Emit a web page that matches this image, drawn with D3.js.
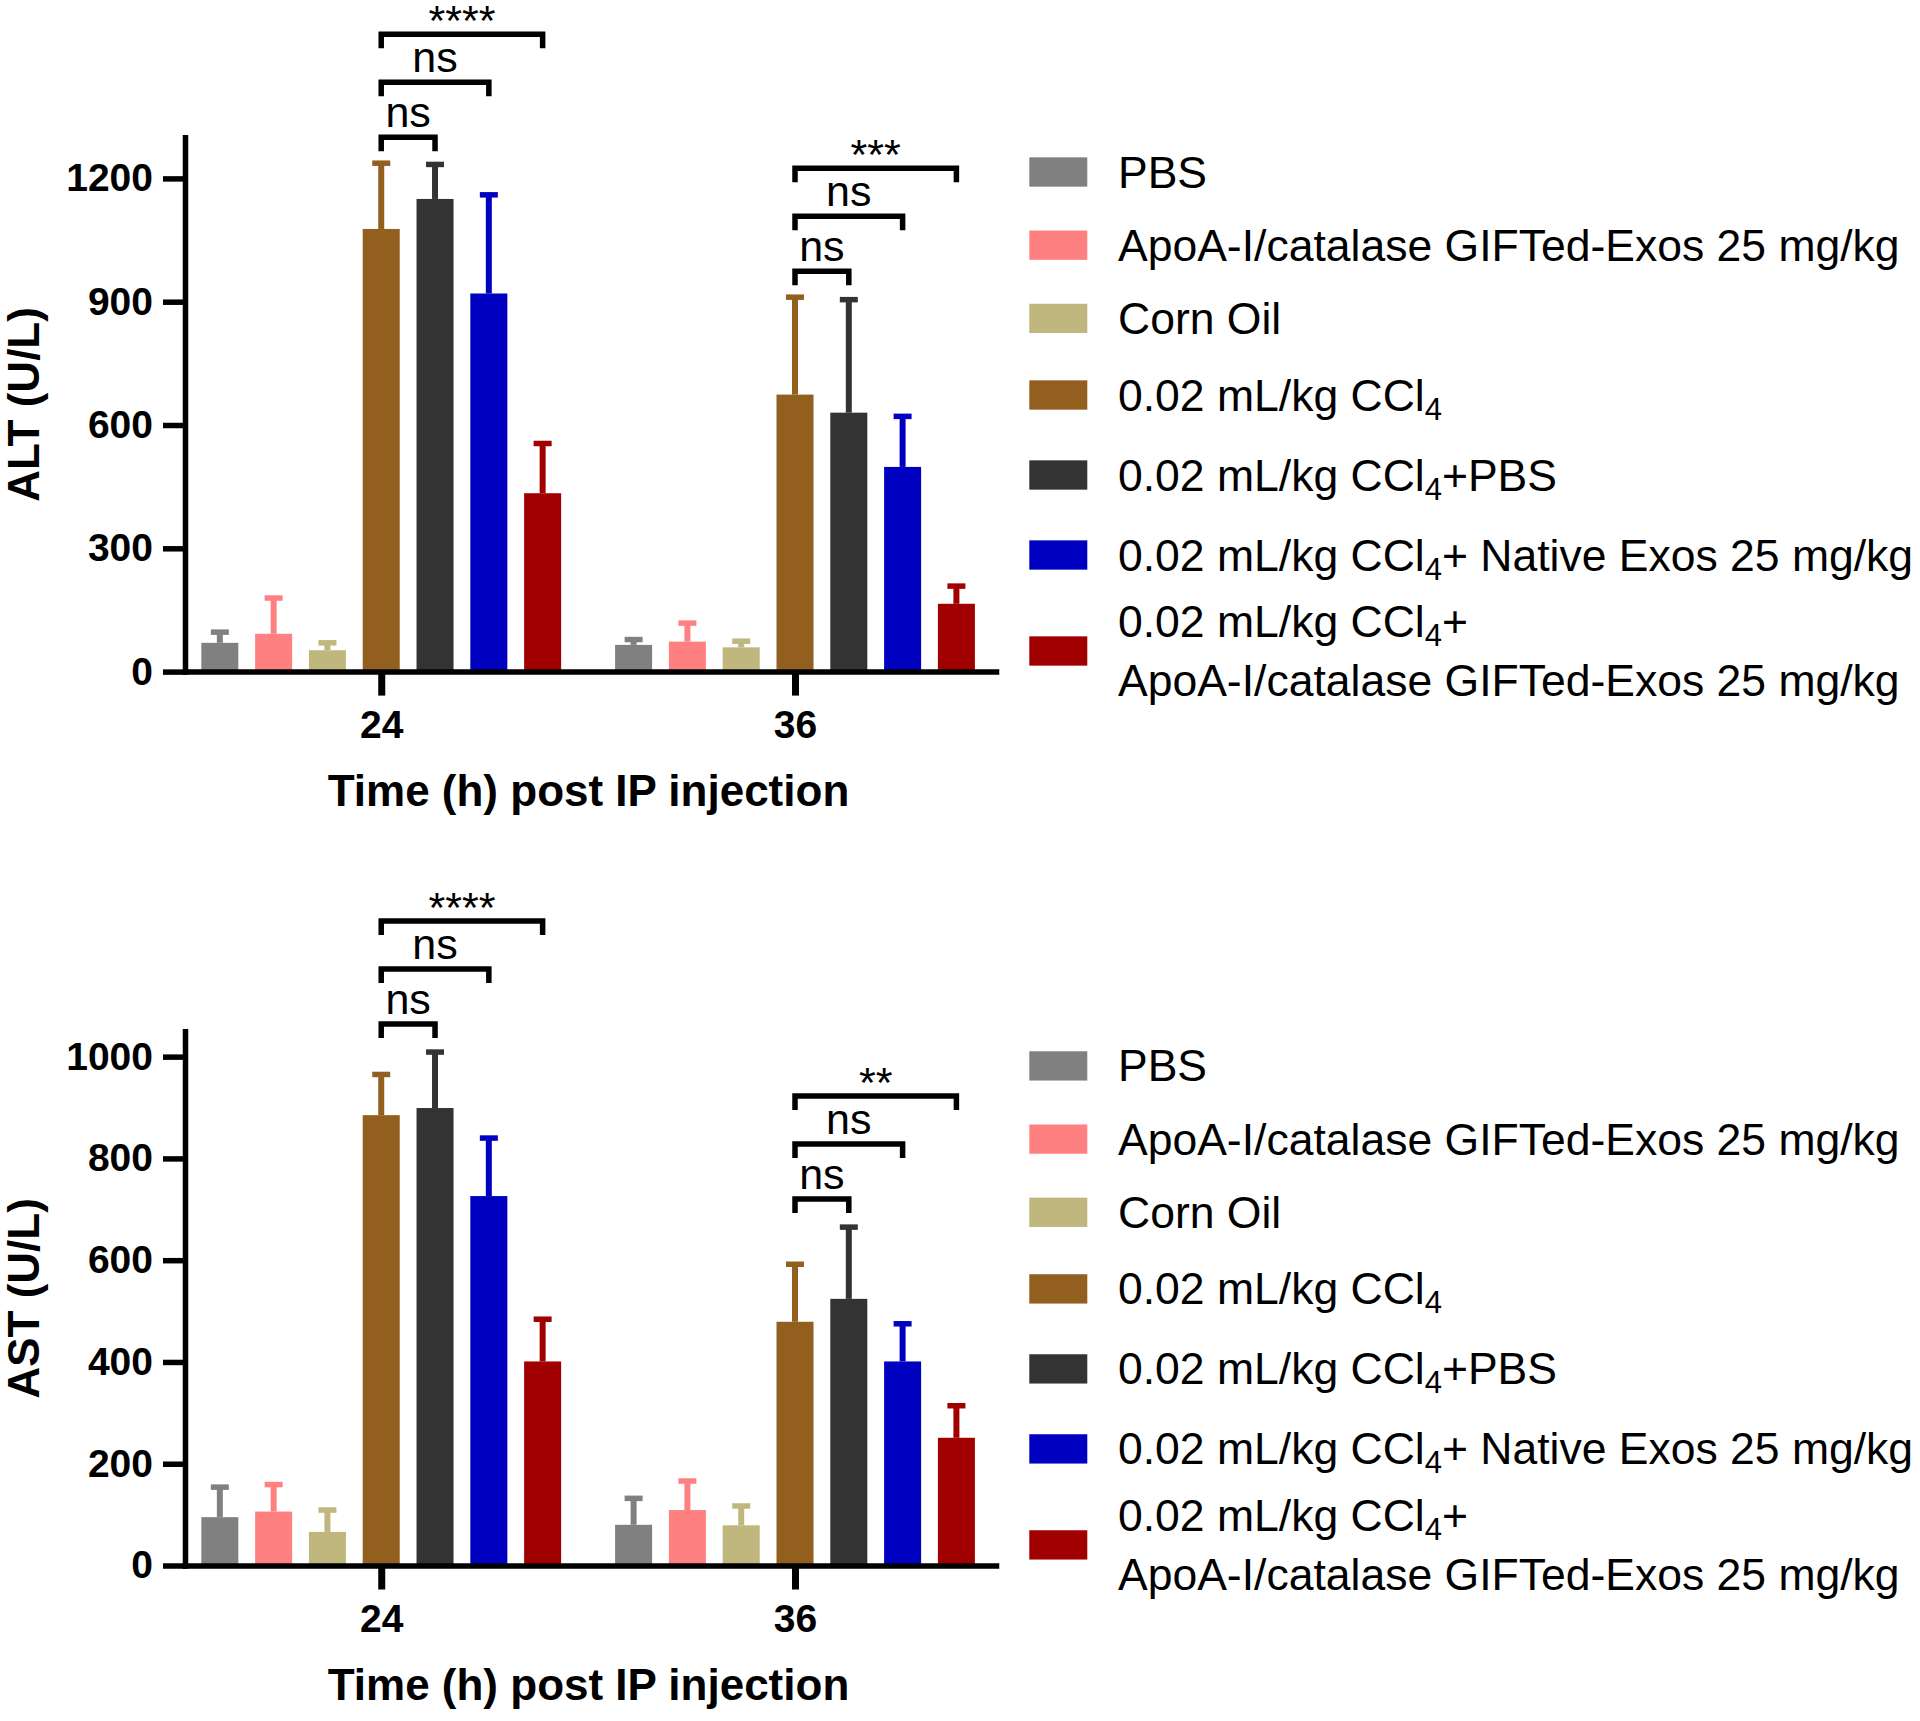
<!DOCTYPE html>
<html><head><meta charset="utf-8">
<script src="https://cdn.jsdelivr.net/npm/d3@7"></script>
<style>
html,body{margin:0;padding:0;background:#fff;}
svg{display:block;}
text{font-family:"Liberation Sans", Arial, sans-serif;}
</style>
</head><body>
<svg id="chart" width="1920" height="1721"></svg>
<script>
// ---------------- data ----------------
const groups = ["24", "36"];
const seriesNames = [
  "PBS",
  "ApoA-I/catalase GIFTed-Exos 25 mg/kg",
  "Corn Oil",
  "0.02 mL/kg CCl_4",
  "0.02 mL/kg CCl_4+PBS",
  "0.02 mL/kg CCl_4+ Native Exos 25 mg/kg",
  "0.02 mL/kg CCl_4+|ApoA-I/catalase GIFTed-Exos 25 mg/kg"
];
const seriesColors = ["#808080", "#FF8080", "#BFB77E", "#925F1E", "#333333", "#0000C0", "#A00000"];

const altMean24 = [70, 92, 52, 1077, 1150, 920, 434];
const altSD24   = [26, 87, 18, 160, 84, 240, 121];
const altMean36 = [65, 73, 59, 674, 630, 498, 165];
const altSD36   = [13, 45, 15, 237, 275, 123, 43];

const astMean24 = [95, 106, 66, 885, 899, 726, 401];
const astSD24   = [59, 53, 43, 80, 110, 114, 83];
const astMean36 = [80, 109, 79, 479, 524, 401, 251];
const astSD36   = [52, 57, 38, 113, 141, 74, 63];

const altTicks = [0, 300, 600, 900, 1200];
const astTicks = [0, 200, 400, 600, 800, 1000];
const altMax = 1300;
const astMax = 1050;

const compareRef = 3;
const compareTargets = [4, 5, 6];
const altSig24 = ["ns", "ns", "****"];
const altSig36 = ["ns", "ns", "***"];
const astSig24 = ["ns", "ns", "****"];
const astSig36 = ["ns", "ns", "**"];

const xTitle = "Time (h) post IP injection";

// ---------------- layout ----------------
const X0 = 185, X1 = 996, PLOT_H = 534.3;
const AXIS_W = 5.5;
const svg = d3.select("#chart");

const panels = [
  {title: "ALT (U/L)", max: altMax, ticks: altTicks, baseY: 671.6, gap0: 26,
   means: {"24": altMean24, "36": altMean36}, sds: {"24": altSD24, "36": altSD36},
   sig: {"24": altSig24, "36": altSig36}},
  {title: "AST (U/L)", max: astMax, ticks: astTicks, baseY: 1565.5, gap0: 28,
   means: {"24": astMean24, "36": astMean36}, sds: {"24": astSD24, "36": astSD36},
   sig: {"24": astSig24, "36": astSig36}}
];

function drawPanel(p) {
  const g = svg.append("g");
  const y = d3.scaleLinear().domain([0, p.max]).range([p.baseY, p.baseY - PLOT_H]);
  const x = d3.scalePoint().domain(groups).range([X0, X1]).padding(0.48).align(0.494);
  const xs = d3.scaleBand().domain(d3.range(seriesNames.length))
    .range([-188.3, 188.3]).paddingInner(0.312).paddingOuter(0.156);
  const bw = xs.bandwidth();

  const rows = [];
  groups.forEach(gr => p.means[gr].forEach((m, i) => rows.push({group: gr, i, mean: m, sd: p.sds[gr][i]})));
  const cx = d => x(d.group) + xs(d.i) + bw / 2;

  // error bars
  const eb = g.append("g");
  eb.selectAll("line.stem").data(rows).join("line").attr("class", "stem")
    .attr("x1", cx).attr("x2", cx)
    .attr("y1", d => y(d.mean)).attr("y2", d => y(d.mean + d.sd))
    .attr("stroke", d => seriesColors[d.i]).attr("stroke-width", 6);
  eb.selectAll("line.cap").data(rows).join("line").attr("class", "cap")
    .attr("x1", d => cx(d) - 9).attr("x2", d => cx(d) + 9)
    .attr("y1", d => y(d.mean + d.sd)).attr("y2", d => y(d.mean + d.sd))
    .attr("stroke", d => seriesColors[d.i]).attr("stroke-width", 5.5);

  // bars
  g.append("g").selectAll("rect").data(rows).join("rect")
    .attr("x", d => x(d.group) + xs(d.i)).attr("width", bw)
    .attr("y", d => y(d.mean)).attr("height", d => y(0) - y(d.mean))
    .attr("fill", d => seriesColors[d.i]);

  // y axis
  const ya = g.append("g").attr("transform", `translate(${X0},0)`)
    .call(d3.axisLeft(y).tickValues(p.ticks).tickSize(22).tickSizeOuter(0).tickPadding(10).tickFormat(d3.format("d")));
  ya.select(".domain").attr("stroke", "#000").attr("stroke-width", AXIS_W).attr("stroke-linecap", "square");
  ya.selectAll(".tick line").attr("stroke", "#000").attr("stroke-width", AXIS_W);
  ya.selectAll(".tick text").attr("fill", "#000").attr("font-size", 39).attr("font-weight", "bold")
    .attr("font-family", '"Liberation Sans", Arial, sans-serif');

  // x axis
  const xa = g.append("g").attr("transform", `translate(0,${p.baseY})`)
    .call(d3.axisBottom(x).tickSize(24).tickSizeOuter(0).tickPadding(14.7));
  xa.select(".domain").attr("stroke", "#000").attr("stroke-width", AXIS_W).attr("stroke-linecap", "square");
  xa.selectAll(".tick line").attr("stroke", "#000").attr("stroke-width", 7);
  xa.selectAll(".tick text").attr("fill", "#000").attr("font-size", 39).attr("font-weight", "bold")
    .attr("font-family", '"Liberation Sans", Arial, sans-serif');

  // titles
  g.append("text").attr("transform", "rotate(-90)")
    .attr("x", -(p.baseY - PLOT_H / 2)).attr("y", 39)
    .attr("text-anchor", "middle").attr("font-size", 44).attr("font-weight", "bold").text(p.title);
  g.append("text").attr("x", (X0 + X1) / 2 - 2).attr("y", p.baseY + 134.4)
    .attr("text-anchor", "middle").attr("font-size", 44).attr("font-weight", "bold").text(xTitle);

  // significance brackets
  const levelSteps = [0, 55, 103];
  groups.forEach(gr => {
    const refX = x(gr) + xs(compareRef) + bw / 2;
    const top0 = Math.max(p.means[gr][compareRef] + p.sds[gr][compareRef],
                          p.means[gr][compareTargets[0]] + p.sds[gr][compareTargets[0]]);
    const base = y(top0) - p.gap0;
    compareTargets.forEach((t, k) => {
      const tx = x(gr) + xs(t) + bw / 2;
      const ly = base - levelSteps[k];
      g.append("path").attr("d", `M${refX},${ly + 14}V${ly}H${tx}V${ly + 14}`)
        .attr("fill", "none").attr("stroke", "#000").attr("stroke-width", AXIS_W);
      const lab = p.sig[gr][k];
      const stars = lab.indexOf("*") >= 0;
      g.append("text").attr("x", (refX + tx) / 2).attr("y", stars ? ly + 0.5 : ly - 10)
        .attr("text-anchor", "middle").attr("font-size", 43).text(lab);
    });
  });

  // legend
  const FS = 44.5;
  const halfH = seriesNames.map(s => s.includes("|") ? 56 : (s.includes("_") ? 40 : 36.6));
  let c = p.baseY - 499.6;
  const centers = [];
  halfH.forEach((h, i) => { if (i > 0) c += halfH[i - 1] + h; centers.push(c); });
  const lg = g.append("g");
  seriesNames.forEach((name, i) => {
    const cy = centers[i];
    lg.append("rect").attr("x", 1029.3).attr("y", cy - 14.65).attr("width", 58).attr("height", 29.3)
      .attr("fill", seriesColors[i]);
    const lines = name.split("|");
    lines.forEach((ln, j) => {
      const lineC = lines.length === 1 ? cy : cy + (j - (lines.length - 1) / 2) * 59.4;
      const t = lg.append("text").attr("x", 1118).attr("y", lineC + 0.35 * FS).attr("font-size", FS).attr("fill", "#000");
      const parts = ln.split(/_(\d)/);
      parts.forEach((pt, k) => {
        if (k % 2 === 1) {
          t.append("tspan").attr("font-size", 31).attr("dy", 9).text(pt);
        } else if (pt.length) {
          const ts = t.append("tspan").text(pt);
          if (k > 0) ts.attr("dy", -9);
        }
      });
    });
  });
}

panels.forEach(drawPanel);
</script>
</body></html>
